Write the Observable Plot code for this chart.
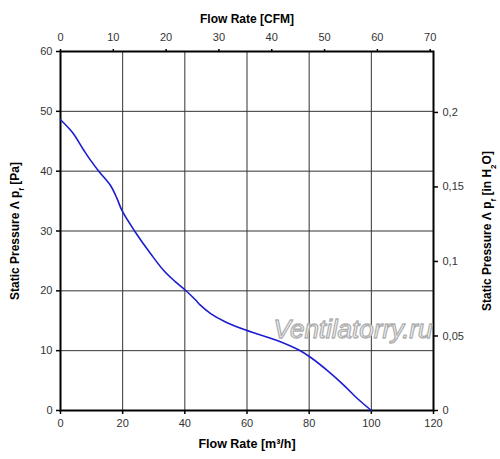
<!DOCTYPE html>
<html><head><meta charset="utf-8">
<script src="https://cdn.jsdelivr.net/npm/d3@7"></script>
<script src="https://cdn.jsdelivr.net/npm/@observablehq/plot@0.6"></script>
<style>body{margin:0;background:#fff} svg{display:block}</style>
</head><body><div id="chart"></div>
<script>
// Fan curve: flow rate [m³/h] vs static pressure [Pa]
const flow =     [0, 3.8, 7.5, 9.7, 12.3, 16.1, 18.2, 19.8, 24.1, 29.0, 33.2, 37.0, 40.2, 43.4, 45.0, 48.3, 53.1, 59.8, 69.7, 76.7, 80.4, 85.8, 91.2, 95.5, 100];
const pressure = [48.6, 46.5, 43.5, 41.8, 40.0, 37.6, 35.4, 33.4, 29.8, 26.2, 23.4, 21.5, 20.1, 18.5, 17.6, 16.2, 14.8, 13.4, 11.7, 10.1, 8.9, 6.7, 4.2, 2.0, 0];

const flowTicks = [0, 20, 40, 60, 80, 100, 120];
const pressureTicks = [0, 10, 20, 30, 40, 50, 60];
const cfmTicks = [0, 10, 20, 30, 40, 50, 60, 70];
const inH2OTicks = [0, 0.05, 0.1, 0.15, 0.2];
const M3H_PER_CFM = 1.699;
const PA_PER_INH2O = 249.09;

const data = flow.map((x, i) => ({x, y: pressure[i]}));
const comma = d => String(+d.toFixed(3)).replace(".", ",");

const chart = Plot.plot({
  width: 500, height: 459,
  marginLeft: 60, marginRight: 67, marginTop: 51, marginBottom: 49,
  style: {fontFamily: "'Liberation Sans', Arial, sans-serif", fontSize: "11px", color: "#000", background: "#fff"},
  x: {domain: [0, 120]},
  y: {domain: [0, 60]},
  marks: [
    Plot.gridX(flowTicks.slice(1, -1), {stroke: "#333", strokeOpacity: 1, strokeWidth: 1}),
    Plot.gridY(pressureTicks.slice(1, -1), {stroke: "#333", strokeOpacity: 1, strokeWidth: 1}),
    Plot.axisX(flowTicks, {anchor: "bottom", tickSize: 4, tickPadding: 5, label: null, fill: "#333", strokeWidth: 1.5}),
    Plot.axisY(pressureTicks, {anchor: "left", tickSize: 4, tickPadding: 4, label: null, fill: "#333", strokeWidth: 1.5}),
    Plot.axisX(cfmTicks.map(c => c * M3H_PER_CFM), {anchor: "top", tickSize: 3, tickPadding: 8, label: null, fill: "#333", strokeWidth: 1.5,
      tickFormat: d => String(Math.round(d / M3H_PER_CFM))}),
    Plot.axisY(inH2OTicks.map(v => v * PA_PER_INH2O), {anchor: "right", tickSize: 4, tickPadding: 5, label: null, fill: "#333", strokeWidth: 1.5,
      tickFormat: d => comma(d / PA_PER_INH2O)}),
    Plot.frame({stroke: "#000", strokeWidth: 2}),
    Plot.text(["Ventilatorry.ru"], {frameAnchor: "bottom-right", textAnchor: "end", lineAnchor: "bottom", dx: -1, dy: -73,
      fontSize: 26, fontStyle: "italic", fill: "#fff", stroke: "#b0b0b0", strokeWidth: 1.3, paintOrder: "normal"}),
    Plot.line(data, {x: "x", y: "y", curve: "catmull-rom", stroke: "#1c1cd0", strokeWidth: 1.6}),
    Plot.text(["Flow Rate [m³/h]"], {frameAnchor: "bottom", textAnchor: "middle", dy: 37, fontWeight: "bold", fontSize: 12.5, fill: "#000"}),
    Plot.text(["Flow Rate [CFM]"], {frameAnchor: "top", textAnchor: "middle", dy: -37, fontWeight: "bold", fontSize: 12, fill: "#000"}),
    Plot.text(["Static Pressure Λ pf [Pa]"], {frameAnchor: "left", textAnchor: "middle", lineAnchor: "middle", rotate: -90, dx: -45, fontWeight: "bold", fontSize: 12, fill: "#000"}),
    Plot.text(["Static Pressure Λ pf [in H2O]"], {frameAnchor: "right", textAnchor: "middle", lineAnchor: "middle", rotate: -90, dx: 54, fontWeight: "bold", fontSize: 12, fill: "#000"})
  ]
});

// subscripts in the axis titles
d3.select(chart).selectAll("text").each(function() {
  const t = this.textContent;
  if (!t.startsWith("Static Pressure")) return;
  const sel = d3.select(this);
  sel.selectAll("*").remove();
  sel.text(null);
  const parts = t.includes("in H2O")
    ? [["Static Pressure Λ p"], ["f", 1], [" [in H"], ["2", 1], ["O]"]]
    : [["Static Pressure Λ p"], ["f", 1], [" [Pa]"]];
  parts.forEach(([s, sub]) => {
    const ts = sel.append("tspan").text(s);
    if (sub) ts.attr("baseline-shift", "sub").attr("font-size", 8);
  });
});

document.getElementById("chart").append(chart);
</script>
</body></html>
